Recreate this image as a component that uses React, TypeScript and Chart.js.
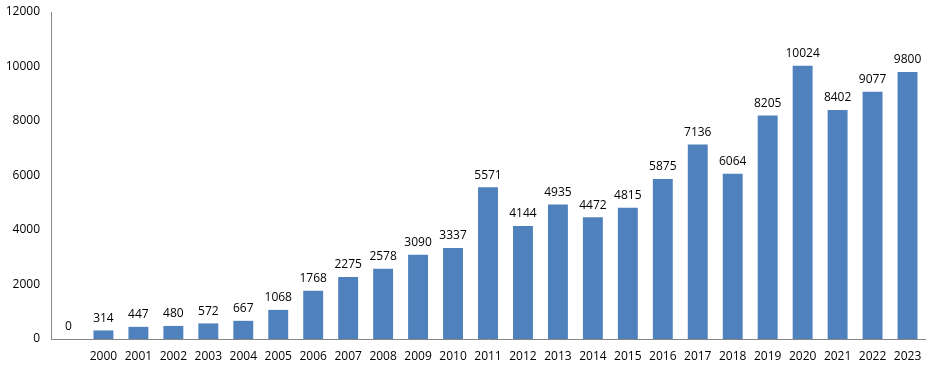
import React, { useEffect, useRef } from "react";
import { Chart, registerables } from "chart.js";

Chart.register(...registerables);

const categories: string[] = ["", "2000", "2001", "2002", "2003", "2004", "2005", "2006", "2007", "2008", "2009", "2010", "2011", "2012", "2013", "2014", "2015", "2016", "2017", "2018", "2019", "2020", "2021", "2022", "2023"];
const values: number[] = [0, 314, 447, 480, 572, 667, 1068, 1768, 2275, 2578, 3090, 3337, 5571, 4144, 4935, 4472, 4815, 5875, 7136, 6064, 8205, 10024, 8402, 9077, 9800];
const yTicks: number[] = [0, 2000, 4000, 6000, 8000, 10000, 12000];

const FONT = "'Open Sans', 'Liberation Sans', sans-serif";

const labelPlugin = {
  id: "barLabels",
  afterDatasetsDraw(chart: any) {
    const ctx = chart.ctx;
    const meta = chart.getDatasetMeta(0);
    ctx.save();
    ctx.font = `12px ${FONT}`;
    ctx.fillStyle = "#000";
    ctx.textAlign = "center";
    ctx.textBaseline = "bottom";
    meta.data.forEach((bar: any, i: number) => {
      ctx.fillText(String(values[i]), bar.x, bar.y - 6);
    });
    ctx.restore();
  },
};

export default function App() {
  const ref = useRef<HTMLCanvasElement | null>(null);
  useEffect(() => {
    if (!ref.current) return;
    const chart = new Chart(ref.current, {
      type: "bar",
      data: {
        labels: categories,
        datasets: [
          {
            data: values,
            backgroundColor: "#4F81BD",
            categoryPercentage: 1,
            barPercentage: 0.57,
          },
        ],
      },
      options: {
        animation: false,
        responsive: false,
        maintainAspectRatio: false,
        layout: { padding: { top: 12, right: 13, left: 0, bottom: 0 } },
        plugins: { legend: { display: false }, tooltip: { enabled: false } },
        scales: {
          x: {
            grid: { display: false, drawTicks: false },
            border: { display: true, color: "#868686" },
            ticks: { color: "#000", font: { family: FONT, size: 12 }, padding: 10, maxRotation: 0, autoSkip: false },
            afterFit: (s: any) => { s.height = 31; s.paddingLeft = 0; s.paddingRight = 0; },
          },
          y: {
            min: 0,
            max: 12000,
            grid: { display: false, drawTicks: false },
            border: { display: true, color: "#868686" },
            afterBuildTicks: (s: any) => { s.ticks = yTicks.map((v) => ({ value: v })); },
            ticks: { color: "#000", font: { family: FONT, size: 12 }, padding: 11, callback: (v: any) => String(v) },
            afterFit: (s: any) => { s.width = 51; s.paddingTop = 0; s.paddingBottom = 0; },
          },
        },
      },
      plugins: [labelPlugin],
    });
    return () => chart.destroy();
  }, []);
  return (
    <div style={{ position: "fixed", left: 0, top: 0, width: 938, height: 370, background: "#fff" }}>
      <canvas ref={ref} width={938} height={370} />
    </div>
  );
}
